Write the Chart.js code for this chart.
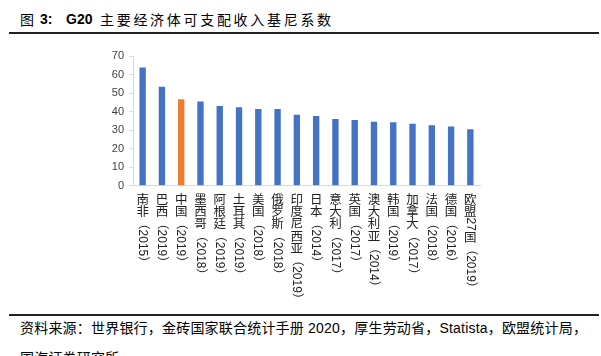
<!DOCTYPE html>
<html><head><meta charset="utf-8">
<script src="https://cdn.jsdelivr.net/npm/chart.js@4"></script>
<style>
html,body{margin:0;padding:0;background:#fff;}
#wrap{position:relative;width:601px;height:356px;overflow:hidden;background:#fff;}
.t{position:absolute;white-space:nowrap;color:#000;}
.tt{position:absolute;top:10px;white-space:nowrap;color:#000;font:14px 'Noto Sans CJK SC',sans-serif;line-height:19px;}
.tb{font:bold 14px 'Liberation Sans',sans-serif;line-height:19px;}
.rule{position:absolute;left:9px;width:590px;height:2px;background:#222;}
#src1{left:20px;top:317px;font:14px 'Liberation Sans','Noto Sans CJK SC',sans-serif;letter-spacing:0.2px;}
#src2{left:20px;top:347px;font:14px 'Liberation Sans','Noto Sans CJK SC',sans-serif;letter-spacing:0.2px;}
canvas{position:absolute;left:0;top:40px;}
</style></head>
<body><div id="wrap">
<div class="tt" style="left:20px">图</div>
<div class="tt tb" style="left:40px">3:</div>
<div class="tt tb" style="left:66px">G20</div>
<div class="tt" style="left:100px;letter-spacing:2.7px">主要经济体可支配收入基尼系数</div>
<div class="rule" style="top:32px"></div>
<canvas id="c" width="601" height="272"></canvas>
<div class="rule" style="top:314px"></div>
<div class="t" id="src1">资料来源：世界银行，金砖国家联合统计手册 2020，厚生劳动省，Statista，欧盟统计局，</div>
<div class="t" id="src2">国海证券研究所</div>
</div>
<script>
const countries = ['南非','巴西','中国','墨西哥','阿根廷','土耳其','美国','俄罗斯','印度尼西亚','日本','意大利','英国','澳大利亚','韩国','加拿大','法国','德国','欧盟27国'];
const years = ['2015','2019','2019','2018','2019','2019','2018','2018','2019','2014','2017','2017','2014','2019','2017','2018','2016','2019'];
const gini = [63.8,53.4,46.6,45.5,43.0,42.3,41.4,41.4,38.3,37.6,36.0,35.4,34.5,34.2,33.5,32.6,32.0,30.4];
const highlight = '中国';
const yTicks = [0,10,20,30,40,50,60,70];

const BLUE = '#4472C4', ORANGE = '#ED7D31';

const vlabel = {
  id: 'vlabel',
  afterDraw(chart) {
    const ctx = chart.ctx, xs = chart.scales.x, top = chart.chartArea.bottom;
    ctx.save();
    ctx.fillStyle = '#222';
    chart.data.labels.forEach((name, i) => {
      const x = xs.getPixelForValue(i);
      const text = name + '（' + years[i] + '）';
      const runs = text.match(/[\u4e00-\u9fff]|[^\u4e00-\u9fff]+/g);
      let y = top + 7.5;
      for (const r of runs) {
        if (/[\u4e00-\u9fff]/.test(r)) {
          ctx.font = "12.5px 'Noto Sans CJK SC', sans-serif";
          ctx.textAlign = 'center';
          ctx.textBaseline = 'middle';
          ctx.fillText(r, x, y + 6.1);
          y += 12.2;
        } else {
          ctx.font = "12px 'Liberation Sans', 'Noto Sans CJK SC', sans-serif";
          const w = ctx.measureText(r).width;
          ctx.save();
          ctx.translate(x, y);
          ctx.rotate(Math.PI / 2);
          ctx.textAlign = 'left';
          ctx.textBaseline = 'middle';
          ctx.fillText(r, 0, 0.5);
          ctx.restore();
          y += w;
        }
      }
    });
    ctx.restore();
  }
};

new Chart(document.getElementById('c'), {
  type: 'bar',
  data: {
    labels: countries,
    datasets: [{
      data: gini,
      backgroundColor: countries.map(c => c === highlight ? ORANGE : BLUE),
      borderWidth: 0,
      barPercentage: 0.33,
      categoryPercentage: 1.0
    }]
  },
  options: {
    responsive: false,
    devicePixelRatio: 1,
    animation: false,
    layout: { padding: { left: 0, right: 121, top: 16, bottom: 0 } },
    plugins: { legend: { display: false }, tooltip: { enabled: false } },
    scales: {
      x: {
        grid: { display: false },
        border: { display: true, color: '#D9D9D9', width: 1 },
        ticks: { display: false },
        afterFit: s => { s.height = 126.3; }
      },
      y: {
        min: 0, max: 70,
        afterBuildTicks: s => { s.ticks = yTicks.map(v => ({ value: v })); },
        grid: { display: true, drawOnChartArea: false, drawTicks: true, tickLength: 4, color: '#D9D9D9' },
        border: { display: true, color: '#D9D9D9', width: 1 },
        ticks: { color: '#404040', font: { family: "'Liberation Sans', sans-serif", size: 11 }, padding: 5 },
        afterFit: s => { s.width = 133; }
      }
    }
  },
  plugins: [vlabel]
});
</script>
</body></html>
